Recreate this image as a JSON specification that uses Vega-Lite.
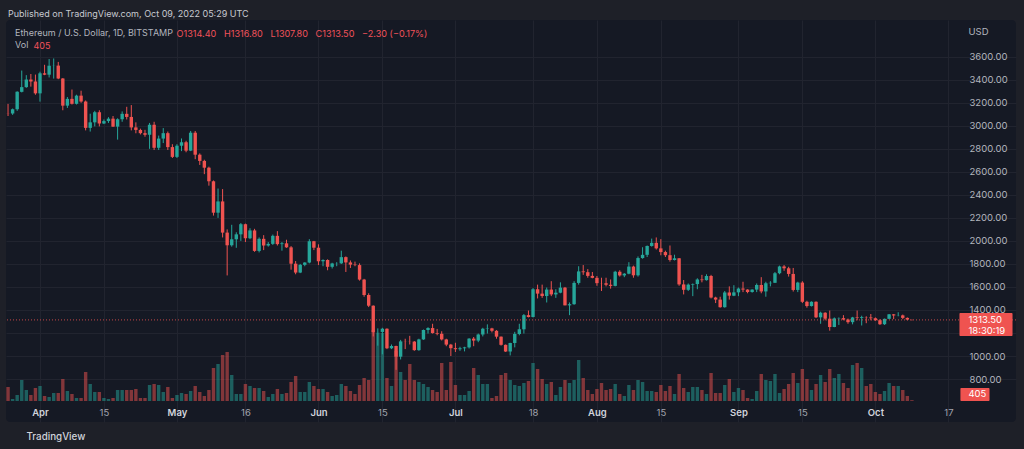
{
  "$schema": "https://vega.github.io/schema/vega-lite/v6.json",
  "autosize": {"type": "none"},
  "width": 1010,
  "height": 402,
  "padding": {"left": 6, "top": 20, "right": 8, "bottom": 27},
  "background": "#1e2028",
  "view": {"fill": "#151924", "stroke": null, "cornerRadius": 4},
  "config": {"font": "Inter"},
  "title": {
    "text": "Published on TradingView.com, Oct 09, 2022 05:29 UTC",
    "subtitle": ["\u2800Ethereum / U.S. Dollar, 1D, BITSTAMP", "\u2800Vol"],
    "anchor": "start", "frame": "group", "orient": "top", "offset": -30, "dx": 2,
    "font": "Inter", "fontSize": 9, "fontWeight": "normal", "color": "#c8cad0",
    "subtitleFont": "Inter", "subtitleFontSize": 9, "subtitleColor": "#b2b5be",
    "subtitleLineHeight": 12, "subtitlePadding": 10
  },
  "data": {"values": [
{"d":"2022-03-25","o":3107,"h":3190,"l":3085,"c":3106,"v":7000},
{"d":"2022-03-26","o":3106,"h":3150,"l":3095,"c":3144,"v":1000},
{"d":"2022-03-27","o":3144,"h":3300,"l":3130,"c":3295,"v":3000},
{"d":"2022-03-28","o":3295,"h":3480,"l":3290,"c":3336,"v":10500},
{"d":"2022-03-29","o":3336,"h":3440,"l":3330,"c":3402,"v":5500},
{"d":"2022-03-30","o":3402,"h":3450,"l":3340,"c":3385,"v":3000},
{"d":"2022-03-31","o":3385,"h":3445,"l":3270,"c":3282,"v":6500},
{"d":"2022-04-01","o":3282,"h":3470,"l":3210,"c":3456,"v":7500},
{"d":"2022-04-02","o":3456,"h":3530,"l":3440,"c":3444,"v":2500},
{"d":"2022-04-03","o":3444,"h":3580,"l":3420,"c":3522,"v":2000},
{"d":"2022-04-04","o":3522,"h":3585,"l":3410,"c":3523,"v":4000},
{"d":"2022-04-05","o":3523,"h":3555,"l":3405,"c":3411,"v":4000},
{"d":"2022-04-06","o":3411,"h":3415,"l":3135,"c":3175,"v":11000},
{"d":"2022-04-07","o":3175,"h":3250,"l":3155,"c":3234,"v":5000},
{"d":"2022-04-08","o":3234,"h":3315,"l":3185,"c":3191,"v":3500},
{"d":"2022-04-09","o":3191,"h":3270,"l":3185,"c":3262,"v":1500},
{"d":"2022-04-10","o":3262,"h":3305,"l":3200,"c":3211,"v":1500},
{"d":"2022-04-11","o":3211,"h":3220,"l":2960,"c":2982,"v":14500},
{"d":"2022-04-12","o":2982,"h":3105,"l":2950,"c":3030,"v":8500},
{"d":"2022-04-13","o":3030,"h":3130,"l":2995,"c":3118,"v":4500},
{"d":"2022-04-14","o":3118,"h":3135,"l":2995,"c":3020,"v":4500},
{"d":"2022-04-15","o":3020,"h":3055,"l":3015,"c":3041,"v":1500},
{"d":"2022-04-16","o":3041,"h":3075,"l":3025,"c":3062,"v":1000},
{"d":"2022-04-17","o":3062,"h":3085,"l":2990,"c":2993,"v":1500},
{"d":"2022-04-18","o":2993,"h":3065,"l":2880,"c":3057,"v":5500},
{"d":"2022-04-19","o":3057,"h":3125,"l":3035,"c":3104,"v":5500},
{"d":"2022-04-20","o":3104,"h":3165,"l":3055,"c":3077,"v":5500},
{"d":"2022-04-21","o":3077,"h":3180,"l":2960,"c":2986,"v":5500},
{"d":"2022-04-22","o":2986,"h":3030,"l":2935,"c":2964,"v":6000},
{"d":"2022-04-23","o":2964,"h":2975,"l":2925,"c":2936,"v":1500},
{"d":"2022-04-24","o":2936,"h":2965,"l":2905,"c":2922,"v":1500},
{"d":"2022-04-25","o":2922,"h":3025,"l":2800,"c":3009,"v":8000},
{"d":"2022-04-26","o":3009,"h":3035,"l":2790,"c":2809,"v":8500},
{"d":"2022-04-27","o":2809,"h":2915,"l":2790,"c":2889,"v":8000},
{"d":"2022-04-28","o":2889,"h":2980,"l":2850,"c":2936,"v":4500},
{"d":"2022-04-29","o":2936,"h":2950,"l":2790,"c":2815,"v":7000},
{"d":"2022-04-30","o":2815,"h":2840,"l":2720,"c":2730,"v":1500},
{"d":"2022-05-01","o":2730,"h":2840,"l":2720,"c":2827,"v":3000},
{"d":"2022-05-02","o":2827,"h":2890,"l":2780,"c":2857,"v":4000},
{"d":"2022-05-03","o":2857,"h":2870,"l":2770,"c":2784,"v":3500},
{"d":"2022-05-04","o":2784,"h":2955,"l":2780,"c":2940,"v":5000},
{"d":"2022-05-05","o":2940,"h":2955,"l":2710,"c":2749,"v":7500},
{"d":"2022-05-06","o":2749,"h":2760,"l":2660,"c":2695,"v":4500},
{"d":"2022-05-07","o":2695,"h":2705,"l":2580,"c":2636,"v":2500},
{"d":"2022-05-08","o":2636,"h":2645,"l":2480,"c":2518,"v":5500},
{"d":"2022-05-09","o":2518,"h":2525,"l":2220,"c":2245,"v":16500},
{"d":"2022-05-10","o":2245,"h":2455,"l":2200,"c":2343,"v":18500},
{"d":"2022-05-11","o":2343,"h":2450,"l":2030,"c":2072,"v":23000},
{"d":"2022-05-12","o":2072,"h":2100,"l":1700,"c":1962,"v":24500},
{"d":"2022-05-13","o":1962,"h":2140,"l":1950,"c":2014,"v":13000},
{"d":"2022-05-14","o":2014,"h":2075,"l":1940,"c":2057,"v":3500},
{"d":"2022-05-15","o":2057,"h":2155,"l":2000,"c":2145,"v":3500},
{"d":"2022-05-16","o":2145,"h":2150,"l":1990,"c":2023,"v":8500},
{"d":"2022-05-17","o":2023,"h":2110,"l":2015,"c":2091,"v":7500},
{"d":"2022-05-18","o":2091,"h":2105,"l":1905,"c":1913,"v":6500},
{"d":"2022-05-19","o":1913,"h":2030,"l":1900,"c":2018,"v":6500},
{"d":"2022-05-20","o":2018,"h":2050,"l":1920,"c":1960,"v":5000},
{"d":"2022-05-21","o":1960,"h":1990,"l":1950,"c":1974,"v":2000},
{"d":"2022-05-22","o":1974,"h":2055,"l":1965,"c":2044,"v":3500},
{"d":"2022-05-23","o":2044,"h":2085,"l":1960,"c":1972,"v":6000},
{"d":"2022-05-24","o":1972,"h":1990,"l":1915,"c":1979,"v":3500},
{"d":"2022-05-25","o":1979,"h":2010,"l":1940,"c":1944,"v":4000},
{"d":"2022-05-26","o":1944,"h":1955,"l":1750,"c":1802,"v":9500},
{"d":"2022-05-27","o":1802,"h":1825,"l":1710,"c":1725,"v":12500},
{"d":"2022-05-28","o":1725,"h":1800,"l":1720,"c":1792,"v":4500},
{"d":"2022-05-29","o":1792,"h":1815,"l":1780,"c":1812,"v":4500},
{"d":"2022-05-30","o":1812,"h":2015,"l":1805,"c":1997,"v":9500},
{"d":"2022-05-31","o":1997,"h":2000,"l":1920,"c":1941,"v":7500},
{"d":"2022-06-01","o":1941,"h":1970,"l":1790,"c":1823,"v":6000},
{"d":"2022-06-02","o":1823,"h":1840,"l":1780,"c":1834,"v":6000},
{"d":"2022-06-03","o":1834,"h":1840,"l":1745,"c":1775,"v":4500},
{"d":"2022-06-04","o":1775,"h":1810,"l":1760,"c":1804,"v":2500},
{"d":"2022-06-05","o":1804,"h":1815,"l":1780,"c":1805,"v":3000},
{"d":"2022-06-06","o":1805,"h":1915,"l":1800,"c":1859,"v":8500},
{"d":"2022-06-07","o":1859,"h":1865,"l":1730,"c":1813,"v":7500},
{"d":"2022-06-08","o":1813,"h":1830,"l":1765,"c":1794,"v":5000},
{"d":"2022-06-09","o":1794,"h":1820,"l":1780,"c":1790,"v":3500},
{"d":"2022-06-10","o":1790,"h":1805,"l":1655,"c":1664,"v":8000},
{"d":"2022-06-11","o":1664,"h":1670,"l":1515,"c":1530,"v":11500},
{"d":"2022-06-12","o":1530,"h":1545,"l":1425,"c":1437,"v":10500},
{"d":"2022-06-13","o":1437,"h":1440,"l":1170,"c":1207,"v":35500},
{"d":"2022-06-14","o":1207,"h":1240,"l":1090,"c":1209,"v":34000},
{"d":"2022-06-15","o":1209,"h":1245,"l":1015,"c":1237,"v":34000},
{"d":"2022-06-16","o":1237,"h":1240,"l":1060,"c":1067,"v":11500},
{"d":"2022-06-17","o":1067,"h":1100,"l":1060,"c":1087,"v":7500},
{"d":"2022-06-18","o":1087,"h":1090,"l":880,"c":994,"v":25000},
{"d":"2022-06-19","o":994,"h":1140,"l":970,"c":1127,"v":14500},
{"d":"2022-06-20","o":1127,"h":1150,"l":1060,"c":1126,"v":10500},
{"d":"2022-06-21","o":1126,"h":1175,"l":1100,"c":1125,"v":18500},
{"d":"2022-06-22","o":1125,"h":1130,"l":1045,"c":1051,"v":10500},
{"d":"2022-06-23","o":1051,"h":1150,"l":1045,"c":1144,"v":9500},
{"d":"2022-06-24","o":1144,"h":1230,"l":1140,"c":1226,"v":8500},
{"d":"2022-06-25","o":1226,"h":1250,"l":1195,"c":1243,"v":7000},
{"d":"2022-06-26","o":1243,"h":1280,"l":1195,"c":1199,"v":5500},
{"d":"2022-06-27","o":1199,"h":1235,"l":1180,"c":1193,"v":4500},
{"d":"2022-06-28","o":1193,"h":1215,"l":1135,"c":1144,"v":19000},
{"d":"2022-06-29","o":1144,"h":1150,"l":1085,"c":1099,"v":5500},
{"d":"2022-06-30","o":1099,"h":1105,"l":1000,"c":1068,"v":19500},
{"d":"2022-07-01","o":1068,"h":1115,"l":1035,"c":1059,"v":8000},
{"d":"2022-07-02","o":1059,"h":1080,"l":1045,"c":1067,"v":3000},
{"d":"2022-07-03","o":1067,"h":1080,"l":1040,"c":1075,"v":3000},
{"d":"2022-07-04","o":1075,"h":1155,"l":1065,"c":1151,"v":5000},
{"d":"2022-07-05","o":1151,"h":1165,"l":1085,"c":1134,"v":16500},
{"d":"2022-07-06","o":1134,"h":1195,"l":1120,"c":1187,"v":13000},
{"d":"2022-07-07","o":1187,"h":1245,"l":1170,"c":1237,"v":8500},
{"d":"2022-07-08","o":1237,"h":1275,"l":1195,"c":1240,"v":8500},
{"d":"2022-07-09","o":1240,"h":1245,"l":1205,"c":1219,"v":1500},
{"d":"2022-07-10","o":1219,"h":1225,"l":1150,"c":1168,"v":2500},
{"d":"2022-07-11","o":1168,"h":1170,"l":1090,"c":1097,"v":13000},
{"d":"2022-07-12","o":1097,"h":1100,"l":1035,"c":1039,"v":14000},
{"d":"2022-07-13","o":1039,"h":1115,"l":1005,"c":1113,"v":10500},
{"d":"2022-07-14","o":1113,"h":1210,"l":1075,"c":1192,"v":8000},
{"d":"2022-07-15","o":1192,"h":1280,"l":1180,"c":1232,"v":7500},
{"d":"2022-07-16","o":1232,"h":1365,"l":1195,"c":1355,"v":9000},
{"d":"2022-07-17","o":1355,"h":1395,"l":1335,"c":1339,"v":10000},
{"d":"2022-07-18","o":1339,"h":1590,"l":1335,"c":1580,"v":19000},
{"d":"2022-07-19","o":1580,"h":1620,"l":1500,"c":1542,"v":16000},
{"d":"2022-07-20","o":1542,"h":1620,"l":1505,"c":1521,"v":11000},
{"d":"2022-07-21","o":1521,"h":1595,"l":1465,"c":1577,"v":8500},
{"d":"2022-07-22","o":1577,"h":1650,"l":1520,"c":1535,"v":9500},
{"d":"2022-07-23","o":1535,"h":1580,"l":1505,"c":1550,"v":3000},
{"d":"2022-07-24","o":1550,"h":1640,"l":1545,"c":1594,"v":7000},
{"d":"2022-07-25","o":1594,"h":1600,"l":1440,"c":1440,"v":10500},
{"d":"2022-07-26","o":1440,"h":1465,"l":1355,"c":1450,"v":9000},
{"d":"2022-07-27","o":1450,"h":1650,"l":1445,"c":1635,"v":10500},
{"d":"2022-07-28","o":1635,"h":1780,"l":1620,"c":1735,"v":20500},
{"d":"2022-07-29","o":1735,"h":1790,"l":1705,"c":1728,"v":11500},
{"d":"2022-07-30","o":1728,"h":1755,"l":1680,"c":1696,"v":5500},
{"d":"2022-07-31","o":1696,"h":1730,"l":1675,"c":1679,"v":3500},
{"d":"2022-08-01","o":1679,"h":1695,"l":1610,"c":1633,"v":6000},
{"d":"2022-08-02","o":1633,"h":1680,"l":1565,"c":1632,"v":9000},
{"d":"2022-08-03","o":1632,"h":1680,"l":1605,"c":1619,"v":5500},
{"d":"2022-08-04","o":1619,"h":1665,"l":1585,"c":1609,"v":6000},
{"d":"2022-08-05","o":1609,"h":1740,"l":1605,"c":1732,"v":8500},
{"d":"2022-08-06","o":1732,"h":1745,"l":1690,"c":1700,"v":3500},
{"d":"2022-08-07","o":1700,"h":1720,"l":1685,"c":1715,"v":2500},
{"d":"2022-08-08","o":1715,"h":1815,"l":1710,"c":1777,"v":8000},
{"d":"2022-08-09","o":1777,"h":1785,"l":1680,"c":1701,"v":5500},
{"d":"2022-08-10","o":1701,"h":1865,"l":1690,"c":1851,"v":10500},
{"d":"2022-08-11","o":1851,"h":1945,"l":1845,"c":1879,"v":9500},
{"d":"2022-08-12","o":1879,"h":1960,"l":1860,"c":1956,"v":5000},
{"d":"2022-08-13","o":1956,"h":2020,"l":1950,"c":1983,"v":5000},
{"d":"2022-08-14","o":1983,"h":2030,"l":1925,"c":1935,"v":4500},
{"d":"2022-08-15","o":1935,"h":2015,"l":1875,"c":1903,"v":8000},
{"d":"2022-08-16","o":1903,"h":1915,"l":1860,"c":1876,"v":5000},
{"d":"2022-08-17","o":1876,"h":1960,"l":1820,"c":1834,"v":7500},
{"d":"2022-08-18","o":1834,"h":1880,"l":1830,"c":1849,"v":3500},
{"d":"2022-08-19","o":1849,"h":1850,"l":1610,"c":1622,"v":13500},
{"d":"2022-08-20","o":1622,"h":1660,"l":1535,"c":1575,"v":6500},
{"d":"2022-08-21","o":1575,"h":1630,"l":1565,"c":1620,"v":4500},
{"d":"2022-08-22","o":1620,"h":1630,"l":1520,"c":1625,"v":7000},
{"d":"2022-08-23","o":1625,"h":1675,"l":1580,"c":1665,"v":7000},
{"d":"2022-08-24","o":1665,"h":1705,"l":1640,"c":1659,"v":5500},
{"d":"2022-08-25","o":1659,"h":1710,"l":1655,"c":1695,"v":3500},
{"d":"2022-08-26","o":1695,"h":1705,"l":1500,"c":1508,"v":14000},
{"d":"2022-08-27","o":1508,"h":1515,"l":1460,"c":1490,"v":4000},
{"d":"2022-08-28","o":1490,"h":1515,"l":1420,"c":1424,"v":4000},
{"d":"2022-08-29","o":1424,"h":1565,"l":1420,"c":1552,"v":8000},
{"d":"2022-08-30","o":1552,"h":1605,"l":1490,"c":1524,"v":11000},
{"d":"2022-08-31","o":1524,"h":1615,"l":1520,"c":1553,"v":4500},
{"d":"2022-09-01","o":1553,"h":1595,"l":1520,"c":1586,"v":6500},
{"d":"2022-09-02","o":1586,"h":1645,"l":1555,"c":1577,"v":5500},
{"d":"2022-09-03","o":1577,"h":1580,"l":1545,"c":1556,"v":1500},
{"d":"2022-09-04","o":1556,"h":1580,"l":1550,"c":1577,"v":1000},
{"d":"2022-09-05","o":1577,"h":1630,"l":1555,"c":1617,"v":5000},
{"d":"2022-09-06","o":1617,"h":1685,"l":1545,"c":1561,"v":13500},
{"d":"2022-09-07","o":1561,"h":1645,"l":1515,"c":1632,"v":10500},
{"d":"2022-09-08","o":1632,"h":1650,"l":1605,"c":1636,"v":10000},
{"d":"2022-09-09","o":1636,"h":1730,"l":1635,"c":1719,"v":13500},
{"d":"2022-09-10","o":1719,"h":1785,"l":1710,"c":1778,"v":4000},
{"d":"2022-09-11","o":1778,"h":1790,"l":1740,"c":1762,"v":6000},
{"d":"2022-09-12","o":1762,"h":1775,"l":1690,"c":1713,"v":8500},
{"d":"2022-09-13","o":1713,"h":1765,"l":1560,"c":1574,"v":14000},
{"d":"2022-09-14","o":1574,"h":1645,"l":1555,"c":1638,"v":9000},
{"d":"2022-09-15","o":1638,"h":1650,"l":1460,"c":1471,"v":16000},
{"d":"2022-09-16","o":1471,"h":1480,"l":1420,"c":1434,"v":11000},
{"d":"2022-09-17","o":1434,"h":1475,"l":1430,"c":1471,"v":5500},
{"d":"2022-09-18","o":1471,"h":1475,"l":1330,"c":1336,"v":8500},
{"d":"2022-09-19","o":1336,"h":1385,"l":1280,"c":1376,"v":13000},
{"d":"2022-09-20","o":1376,"h":1380,"l":1310,"c":1324,"v":9500},
{"d":"2022-09-21","o":1324,"h":1395,"l":1220,"c":1252,"v":16000},
{"d":"2022-09-22","o":1252,"h":1335,"l":1250,"c":1327,"v":11500},
{"d":"2022-09-23","o":1327,"h":1335,"l":1270,"c":1329,"v":13500},
{"d":"2022-09-24","o":1329,"h":1355,"l":1310,"c":1317,"v":9000},
{"d":"2022-09-25","o":1317,"h":1325,"l":1280,"c":1294,"v":6500},
{"d":"2022-09-26","o":1294,"h":1340,"l":1275,"c":1335,"v":18000},
{"d":"2022-09-27","o":1335,"h":1395,"l":1310,"c":1330,"v":19000},
{"d":"2022-09-28","o":1330,"h":1350,"l":1265,"c":1337,"v":16500},
{"d":"2022-09-29","o":1337,"h":1345,"l":1285,"c":1335,"v":7500},
{"d":"2022-09-30","o":1335,"h":1365,"l":1310,"c":1328,"v":8500},
{"d":"2022-10-01","o":1328,"h":1335,"l":1305,"c":1311,"v":4500},
{"d":"2022-10-02","o":1311,"h":1320,"l":1270,"c":1276,"v":3500},
{"d":"2022-10-03","o":1276,"h":1325,"l":1270,"c":1323,"v":5000},
{"d":"2022-10-04","o":1323,"h":1365,"l":1320,"c":1362,"v":9000},
{"d":"2022-10-05","o":1362,"h":1365,"l":1320,"c":1352,"v":7500},
{"d":"2022-10-06","o":1352,"h":1380,"l":1345,"c":1353,"v":7500},
{"d":"2022-10-07","o":1353,"h":1360,"l":1320,"c":1331,"v":5500},
{"d":"2022-10-08","o":1331,"h":1335,"l":1310,"c":1316,"v":2500},
{"d":"2022-10-09","o":1314.4,"h":1316.8,"l":1307.8,"c":1313.5,"v":405}
  ]},
  "encoding": {
    "x": {
      "field": "d", "type": "temporal",
      "scale": {"type": "utc", "domain": [1648127692800, 1667243692800], "padding": 0},
      "axis": {
        "orient": "bottom", "offset": -16,
        "values": [
          {"year": 2022, "month": 4, "date": 1, "utc": true},
          {"year": 2022, "month": 4, "date": 15, "utc": true},
          {"year": 2022, "month": 5, "date": 1, "utc": true},
          {"year": 2022, "month": 5, "date": 16, "utc": true},
          {"year": 2022, "month": 6, "date": 1, "utc": true},
          {"year": 2022, "month": 6, "date": 15, "utc": true},
          {"year": 2022, "month": 7, "date": 1, "utc": true},
          {"year": 2022, "month": 7, "date": 18, "utc": true},
          {"year": 2022, "month": 8, "date": 1, "utc": true},
          {"year": 2022, "month": 8, "date": 15, "utc": true},
          {"year": 2022, "month": 9, "date": 1, "utc": true},
          {"year": 2022, "month": 9, "date": 15, "utc": true},
          {"year": 2022, "month": 10, "date": 1, "utc": true},
          {"year": 2022, "month": 10, "date": 17, "utc": true}
        ],
        "labelExpr": "utcdate(datum.value) == 1 ? utcFormat(datum.value, '%b') : utcFormat(datum.value, '%-d')",
        "labelColor": {"condition": {"test": "utcdate(datum.value) == 1", "value": "#d1d4dc"}, "value": "#a3a6af"},
        "labelFontWeight": {"condition": {"test": "utcdate(datum.value) == 1", "value": 600}, "value": 400},
        "labelFont": "Inter", "labelFontSize": 9.5, "labelBaseline": "middle", "labelPadding": 6,
        "labelOverlap": false, "labelFlush": false,
        "domain": false, "ticks": false,
        "grid": true, "gridColor": "#21242f", "gridWidth": 1,
        "title": "TradingView", "titleX": 20, "titleY": 30, "titleAnchor": "start", "titleAlign": "left",
        "titleBaseline": "middle", "titleFont": "Inter", "titleFontSize": 9.8, "titleFontWeight": 500,
        "titleColor": "#d1d4dc"
      }
    }
  },
  "layer": [
    {
      "encoding": {
        "x": {
          "field": "d", "type": "temporal",
          "scale": {"type": "utc", "domain": [1648127692800, 1667243692800], "padding": 0},
          "axis": {
            "orient": "top", "labels": false, "ticks": false, "domain": false, "grid": false,
            "title": "405", "titleX": 27, "titleY": 25, "titleAnchor": "start", "titleAlign": "left",
            "titleBaseline": "middle", "titleFont": "Inter", "titleFontSize": 9, "titleFontWeight": "normal",
            "titleColor": "#f0525a"
          }
        },
        "y": {
          "field": "v", "type": "quantitative",
          "scale": {"domain": [-10500, 190500], "nice": false, "zero": false},
          "axis": {
            "orient": "left", "labels": false, "ticks": false, "domain": false, "grid": false,
            "title": "O1314.40\u00a0\u00a0\u00a0H1316.80\u00a0\u00a0\u00a0L1307.80\u00a0\u00a0\u00a0C1313.50\u00a0\u00a0\u00a0\u22122.30 (\u22120.17%)",
            "titleAngle": 0, "titleX": 170, "titleY": 13, "titleAlign": "left", "titleBaseline": "middle",
            "titleFont": "Inter", "titleFontSize": 9.1, "titleFontWeight": "normal", "titleColor": "#f0525a"
          }
        }
      },
      "layer": [
        {
          "mark": {"type": "bar", "size": 3.4, "opacity": 0.5},
          "encoding": {
            "color": {"condition": {"test": "datum.c >= datum.o", "value": "#26a69a"}, "value": "#ef5350"}
          }
        },
        {
          "transform": [{"filter": "datum.v == 405"}],
          "mark": {"type": "rect", "color": "#ef5350", "cornerRadius": 1},
          "encoding": {
            "x": {"datum": {"year": 2022, "month": 10, "date": 19, "hours": 15, "utc": true}, "type": "temporal"},
            "x2": {"datum": {"year": 2022, "month": 10, "date": 26, "hours": 0, "utc": true}},
            "y": {
              "datum": 6500, "type": "quantitative",
              "scale": {"domain": [-10500, 190500], "nice": false, "zero": false},
              "axis": {
                "orient": "left", "labels": false, "ticks": false, "domain": false, "grid": false,
                "title": "O1314.40\u00a0\u00a0\u00a0H1316.80\u00a0\u00a0\u00a0L1307.80\u00a0\u00a0\u00a0C1313.50\u00a0\u00a0\u00a0\u22122.30 (\u22120.17%)",
                "titleAngle": 0, "titleX": 170, "titleY": 13, "titleAlign": "left", "titleBaseline": "middle",
                "titleFont": "Inter", "titleFontSize": 9.1, "titleFontWeight": "normal", "titleColor": "#f0525a"
              }
            },
            "y2": {"datum": 0}
          }
        },
        {
          "transform": [{"filter": "datum.v == 405"}],
          "mark": {"type": "text", "align": "left", "baseline": "middle", "dy": -6.5, "color": "#ffffff", "font": "Inter", "fontSize": 9.5},
          "encoding": {
            "x": {"datum": {"year": 2022, "month": 10, "date": 21, "hours": 9, "utc": true}, "type": "temporal"},
            "text": {"field": "v", "type": "quantitative", "format": "d"}
          }
        }
      ]
    },
    {
      "layer": [
        {
          "mark": {"type": "rule", "strokeWidth": 1},
          "encoding": {
            "y": {
              "field": "l", "type": "quantitative",
              "scale": {"domain": [426.6, 3919.2], "nice": false, "zero": false},
              "axis": {
                "orient": "right", "offset": -48,
                "values": [800, 1000, 1200, 1400, 1600, 1800, 2000, 2200, 2400, 2600, 2800, 3000, 3200, 3400, 3600],
                "labelExpr": "datum.value == 1200 ? '' : format(datum.value, '.2f')",
                "labelFont": "Inter", "labelFontSize": 9.5, "labelColor": "#b2b5be",
                "labelPadding": 1, "labelBaseline": "middle",
                "domain": false, "ticks": false, "grid": true, "gridColor": "#21242f", "gridWidth": 1,
                "title": "USD", "titleAngle": 0, "titleX": 0, "titleY": 11, "titleAlign": "left",
                "titleBaseline": "middle", "titleFont": "Inter", "titleFontSize": 9.5, "titleFontWeight": "normal",
                "titleColor": "#b2b5be"
              }
            },
            "y2": {"field": "h"},
            "color": {"condition": {"test": "datum.c >= datum.o", "value": "#26a69a"}, "value": "#ef5350"}
          }
        },
        {
          "mark": {"type": "bar", "size": 3.4},
          "encoding": {
            "y": {
              "field": "o", "type": "quantitative",
              "scale": {"domain": [426.6, 3919.2], "nice": false, "zero": false},
              "axis": {
                "orient": "right", "offset": -48,
                "values": [800, 1000, 1200, 1400, 1600, 1800, 2000, 2200, 2400, 2600, 2800, 3000, 3200, 3400, 3600],
                "labelExpr": "datum.value == 1200 ? '' : format(datum.value, '.2f')",
                "labelFont": "Inter", "labelFontSize": 9.5, "labelColor": "#b2b5be",
                "labelPadding": 1, "labelBaseline": "middle",
                "domain": false, "ticks": false, "grid": true, "gridColor": "#21242f", "gridWidth": 1,
                "title": "USD", "titleAngle": 0, "titleX": 0, "titleY": 11, "titleAlign": "left",
                "titleBaseline": "middle", "titleFont": "Inter", "titleFontSize": 9.5, "titleFontWeight": "normal",
                "titleColor": "#b2b5be"
              }
            },
            "y2": {"field": "c"},
            "color": {"condition": {"test": "datum.c >= datum.o", "value": "#26a69a"}, "value": "#ef5350"}
          }
        },
        {
          "transform": [{"filter": "datum.v == 405"}],
          "mark": {"type": "rule", "strokeWidth": 1, "strokeDash": [1, 2], "color": "#ef5350", "opacity": 0.8},
          "encoding": {
            "x": null,
            "y": {
              "field": "c", "type": "quantitative",
              "scale": {"domain": [426.6, 3919.2], "nice": false, "zero": false},
              "axis": {
                "orient": "right", "offset": -48,
                "values": [800, 1000, 1200, 1400, 1600, 1800, 2000, 2200, 2400, 2600, 2800, 3000, 3200, 3400, 3600],
                "labelExpr": "datum.value == 1200 ? '' : format(datum.value, '.2f')",
                "labelFont": "Inter", "labelFontSize": 9.5, "labelColor": "#b2b5be",
                "labelPadding": 1, "labelBaseline": "middle",
                "domain": false, "ticks": false, "grid": true, "gridColor": "#21242f", "gridWidth": 1,
                "title": "USD", "titleAngle": 0, "titleX": 0, "titleY": 11, "titleAlign": "left",
                "titleBaseline": "middle", "titleFont": "Inter", "titleFontSize": 9.5, "titleFontWeight": "normal",
                "titleColor": "#b2b5be"
              }
            }
          }
        },
        {
          "transform": [{"filter": "datum.v == 405"}],
          "mark": {"type": "rect", "color": "#ef5350", "cornerRadius": 1},
          "encoding": {
            "x": {"datum": {"year": 2022, "month": 10, "date": 19, "hours": 10, "utc": true}, "type": "temporal"},
            "x2": {"datum": {"year": 2022, "month": 10, "date": 31, "hours": 1, "utc": true}},
            "y": {
              "datum": 1373.6, "type": "quantitative",
              "scale": {"domain": [426.6, 3919.2], "nice": false, "zero": false},
              "axis": {
                "orient": "right", "offset": -48,
                "values": [800, 1000, 1200, 1400, 1600, 1800, 2000, 2200, 2400, 2600, 2800, 3000, 3200, 3400, 3600],
                "labelExpr": "datum.value == 1200 ? '' : format(datum.value, '.2f')",
                "labelFont": "Inter", "labelFontSize": 9.5, "labelColor": "#b2b5be",
                "labelPadding": 1, "labelBaseline": "middle",
                "domain": false, "ticks": false, "grid": true, "gridColor": "#21242f", "gridWidth": 1,
                "title": "USD", "titleAngle": 0, "titleX": 0, "titleY": 11, "titleAlign": "left",
                "titleBaseline": "middle", "titleFont": "Inter", "titleFontSize": 9.5, "titleFontWeight": "normal",
                "titleColor": "#b2b5be"
              }
            },
            "y2": {"datum": 1173.8}
          }
        },
        {
          "transform": [{"filter": "datum.v == 405"}],
          "mark": {"type": "text", "align": "left", "baseline": "middle", "dy": 0, "color": "#ffffff", "font": "Inter", "fontSize": 9.5},
          "encoding": {
            "x": {"datum": {"year": 2022, "month": 10, "date": 21, "hours": 9, "utc": true}, "type": "temporal"},
            "y": {
              "field": "c", "type": "quantitative",
              "scale": {"domain": [426.6, 3919.2], "nice": false, "zero": false},
              "axis": {
                "orient": "right", "offset": -48,
                "values": [800, 1000, 1200, 1400, 1600, 1800, 2000, 2200, 2400, 2600, 2800, 3000, 3200, 3400, 3600],
                "labelExpr": "datum.value == 1200 ? '' : format(datum.value, '.2f')",
                "labelFont": "Inter", "labelFontSize": 9.5, "labelColor": "#b2b5be",
                "labelPadding": 1, "labelBaseline": "middle",
                "domain": false, "ticks": false, "grid": true, "gridColor": "#21242f", "gridWidth": 1,
                "title": "USD", "titleAngle": 0, "titleX": 0, "titleY": 11, "titleAlign": "left",
                "titleBaseline": "middle", "titleFont": "Inter", "titleFontSize": 9.5, "titleFontWeight": "normal",
                "titleColor": "#b2b5be"
              }
            },
            "text": {"field": "c", "type": "quantitative", "format": ".2f"}
          }
        },
        {
          "transform": [{"filter": "datum.v == 405"}],
          "mark": {"type": "text", "align": "left", "baseline": "middle", "dy": 11, "color": "#ffffff", "font": "Inter", "fontSize": 9.5},
          "encoding": {
            "x": {"datum": {"year": 2022, "month": 10, "date": 21, "hours": 9, "utc": true}, "type": "temporal"},
            "y": {
              "field": "c", "type": "quantitative",
              "scale": {"domain": [426.6, 3919.2], "nice": false, "zero": false},
              "axis": {
                "orient": "right", "offset": -48,
                "values": [800, 1000, 1200, 1400, 1600, 1800, 2000, 2200, 2400, 2600, 2800, 3000, 3200, 3400, 3600],
                "labelExpr": "datum.value == 1200 ? '' : format(datum.value, '.2f')",
                "labelFont": "Inter", "labelFontSize": 9.5, "labelColor": "#b2b5be",
                "labelPadding": 1, "labelBaseline": "middle",
                "domain": false, "ticks": false, "grid": true, "gridColor": "#21242f", "gridWidth": 1,
                "title": "USD", "titleAngle": 0, "titleX": 0, "titleY": 11, "titleAlign": "left",
                "titleBaseline": "middle", "titleFont": "Inter", "titleFontSize": 9.5, "titleFontWeight": "normal",
                "titleColor": "#b2b5be"
              }
            },
            "text": {"value": "18:30:19"}
          }
        }
      ]
    }
  ],
  "resolve": {"scale": {"y": "independent"}, "axis": {"x": "independent", "y": "independent"}}
}
